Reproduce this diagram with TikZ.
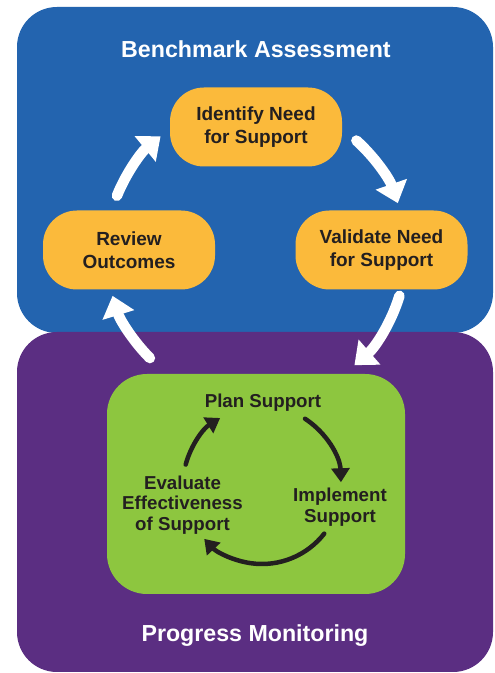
\documentclass[tikz,border=0pt]{standalone}
\usepackage{fontspec}
\setmainfont{Liberation Sans}
\usetikzlibrary{arrows.meta}
\definecolor{bluec}{RGB}{35,100,175}
\definecolor{purplec}{RGB}{91,46,130}
\definecolor{greenc}{RGB}{141,198,63}
\definecolor{orangec}{RGB}{251,186,59}
\definecolor{darktext}{RGB}{35,31,32}
\begin{document}
\begin{tikzpicture}[x=1pt,y=1pt,
  panel/.style={rounded corners=40pt, inner sep=0pt},
  title/.style={text=white, font=\fontsize{23.2}{27}\selectfont\bfseries, anchor=base, inner sep=0pt},
  stepbox/.style={fill=orangec, rounded corners=34pt, minimum width=172pt, minimum height=79pt,
    inner sep=0pt, align=center, text=darktext, font=\fontsize{19}{23}\selectfont\bfseries},
  steptext/.style={inner sep=0pt, align=center, text=darktext, font=\fontsize{18.7}{20.8}\selectfont\bfseries},
  warrow/.style={draw=white, line width=10.5pt, line cap=round, -{Triangle[width=32pt,length=20pt]}},
  karrow/.style={draw=darktext, line width=4.5pt, line cap=round, -{Triangle[width=18pt,length=14pt]}}
]
\useasboundingbox (0,0) rectangle (495,673);
\fill[white] (0,0) rectangle (495,673);
% panels
\node[panel, fill=bluec, minimum width=476pt, minimum height=326pt] (bench) at (255,503) {};
\node[panel, fill=purplec, minimum width=476pt, minimum height=340pt] (prog) at (255,171) {};
\node[title] (benchtitle) at (256,615) {Benchmark Assessment};
\node[title] (progtitle) at (255,31) {Progress Monitoring};
% outer cycle
\node[stepbox] (identify) at (256,546) {Identify Need\\for Support};
\node[stepbox] (review) at (129,423) {Review\\Outcomes};
\node[stepbox] (validate) at (381.5,423) {Validate Need\\for Support};
\node[panel, fill=greenc, minimum width=298pt, minimum height=220pt] (green) at (256,189) {};
% inner cycle
\node[steptext] (plan) at (263,270) {Plan Support};
\node[steptext] (implement) at (340,166) {Implement\\Support};
\node[steptext] (evaluate) at (182.5,168) {Evaluate\\Effectiveness\\of Support};
% outer arrows
\coordinate (O) at (256,421);
\draw[warrow] ([shift={(158:150)}]O) arc[start angle=158, end angle=129.5, radius=150];
\draw[warrow] ([shift={(48:150)}]O) arc[start angle=48, end angle=19, radius=150];
\draw[warrow] ([shift={(-17:150)}]O) arc[start angle=-17, end angle=-49, radius=150];
\draw[warrow] ([shift={(225:150)}]O) arc[start angle=225, end angle=197, radius=150];
% inner arrows
\coordinate (I) at (262,188);
\draw[karrow] ([shift={(57:79)}]I) arc[start angle=57, end angle=2, radius=79];
\draw[karrow] ([shift={(-38:79)}]I) arc[start angle=-38, end angle=-137, radius=79];
\draw[karrow] ([shift={(165:79)}]I) arc[start angle=165, end angle=122, radius=79];
\end{tikzpicture}
\end{document}
